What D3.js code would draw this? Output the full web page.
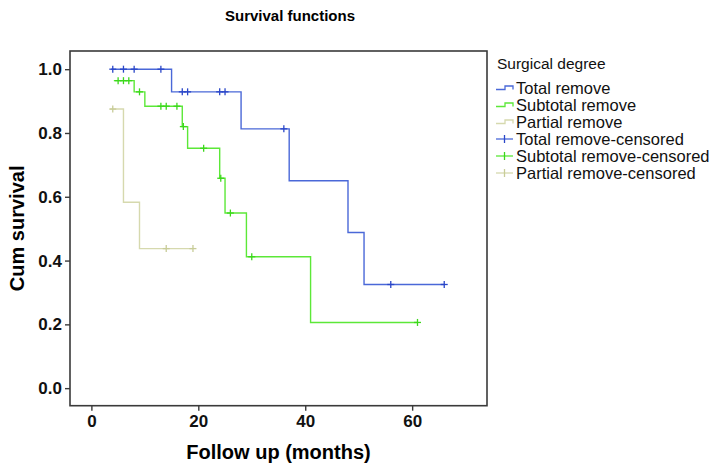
<!DOCTYPE html>
<html>
<head>
<meta charset="utf-8">
<script src="https://cdn.jsdelivr.net/npm/d3@7/dist/d3.min.js"></script>
<style>
  html, body { margin: 0; padding: 0; background: #fff; }
  svg { display: block; font-family: "Liberation Sans", Arial, sans-serif; }
</style>
</head>
<body>
<svg id="chart" width="720" height="469"></svg>
<script>
// ---- Data ----
const groups = ["Total remove", "Subtotal remove", "Partial remove"];
const censoredLabels = ["Total remove-censored", "Subtotal remove-censored", "Partial remove-censored"];

const totalTime = [3.7, 15, 28, 37, 48, 51, 66];
const totalSurv = [1.0, 0.929, 0.813, 0.650, 0.488, 0.325, 0.325];
const totalCensored = [4, 6, 8, 13, 17, 18, 24, 25, 36, 56, 66];

const subtotalTime = [4.2, 8, 10, 17, 18, 24, 25, 29, 41, 61];
const subtotalSurv = [0.964, 0.929, 0.884, 0.820, 0.752, 0.658, 0.549, 0.412, 0.206, 0.206];
const subtotalCensored = [5, 6, 7, 9, 13, 14, 16, 17.2, 21, 24.2, 26, 30, 61];

const partialTime = [3.5, 6, 9, 19];
const partialSurv = [0.875, 0.583, 0.4375, 0.4375];
const partialCensored = [4, 14, 19];

const xTicks = [0, 20, 40, 60];
const yTicks = [0.0, 0.2, 0.4, 0.6, 0.8, 1.0];

const lineColors = ["#4a68d8", "#5ce838", "#d6d9ae"];
const markColors = ["#2a46c8", "#3cd81c", "#c8cc98"];

// ---- Layout ----
const svg = d3.select("#chart");
const pLeft = 70, pRight = 487, pTop = 51, pBottom = 405.7;

const x = d3.scaleLinear().domain([-4, 74]).range([pLeft, pRight]);
const y = d3.scaleLinear().domain([-0.055, 1.057]).range([pBottom, pTop]);

// Title
svg.append("text")
  .attr("x", 290).attr("y", 21)
  .attr("text-anchor", "middle")
  .attr("font-weight", "bold")
  .attr("font-size", 15)
  .text("Survival functions");

// Frame
svg.append("rect")
  .attr("x", pLeft).attr("y", pTop)
  .attr("width", pRight - pLeft).attr("height", pBottom - pTop)
  .attr("fill", "none").attr("stroke", "#3a3a3a").attr("stroke-width", 1.6);

// Axes
const yAxis = svg.append("g")
  .attr("transform", `translate(${pLeft},0)`)
  .call(d3.axisLeft(y).tickValues(yTicks).tickFormat(d3.format(".1f")).tickSize(5).tickPadding(3));
const xAxis = svg.append("g")
  .attr("transform", `translate(0,${pBottom})`)
  .call(d3.axisBottom(x).tickValues(xTicks).tickFormat(d3.format("d")).tickSize(5).tickPadding(4));

[yAxis, xAxis].forEach(g => {
  g.select(".domain").remove();
  g.selectAll(".tick line").attr("stroke", "#3a3a3a").attr("stroke-width", 1.4);
  g.selectAll(".tick text")
    .attr("font-family", "'Liberation Sans', Arial, sans-serif")
    .attr("font-size", 17).attr("font-weight", "bold").attr("fill", "#111");
});

// Axis titles
svg.append("text")
  .attr("x", (pLeft + pRight) / 2).attr("y", 459)
  .attr("text-anchor", "middle")
  .attr("font-weight", "bold").attr("font-size", 20)
  .text("Follow up (months)");
svg.append("text")
  .attr("transform", `translate(24,${(pTop + pBottom) / 2}) rotate(-90)`)
  .attr("text-anchor", "middle")
  .attr("font-weight", "bold").attr("font-size", 20)
  .text("Cum survival");

// Curves
const series = [
  { t: totalTime, s: totalSurv, c: totalCensored },
  { t: subtotalTime, s: subtotalSurv, c: subtotalCensored },
  { t: partialTime, s: partialSurv, c: partialCensored }
];

const line = d3.line().x(d => x(d[0])).y(d => y(d[1])).curve(d3.curveStepAfter);

// draw partial first so others are on top
[2, 1, 0].forEach(i => {
  const sr = series[i];
  const pts = sr.t.map((t, k) => [t, sr.s[k]]);
  svg.append("path")
    .datum(pts)
    .attr("d", line)
    .attr("fill", "none")
    .attr("stroke", lineColors[i])
    .attr("stroke-width", 1.4);

  const survAt = t => {
    let v = sr.s[0];
    for (let k = 0; k < sr.t.length; k++) if (sr.t[k] <= t) v = sr.s[k];
    return v;
  };
  const g = svg.append("g").attr("stroke", markColors[i]).attr("stroke-width", 1.3);
  sr.c.forEach(ct => {
    const cx = x(ct), cy = y(survAt(ct));
    g.append("line").attr("x1", cx - 3.5).attr("x2", cx + 3.5).attr("y1", cy).attr("y2", cy);
    g.append("line").attr("x1", cx).attr("x2", cx).attr("y1", cy - 3.5).attr("y2", cy + 3.5);
  });
});

// Legend
const lg = svg.append("g").attr("transform", "translate(496,0)");
lg.append("text").attr("x", 1).attr("y", 69)
  .attr("font-size", 15.5).attr("fill", "#111").text("Surgical degree");

const itemY = [88, 105, 122, 139, 156, 173];
groups.forEach((name, i) => {
  const cy = itemY[i];
  lg.append("path")
    .attr("d", `M0,${cy + 1.5}H9V${cy - 2}H17V${cy + 1.5}`)
    .attr("fill", "none").attr("stroke", lineColors[i]).attr("stroke-width", 1.3);
  lg.append("text").attr("x", 20).attr("y", cy + 6)
    .attr("font-size", 16.5).attr("fill", "#111").text(name);
});
censoredLabels.forEach((name, i) => {
  const cy = itemY[i + 3];
  lg.append("line").attr("x1", 0).attr("x2", 17).attr("y1", cy).attr("y2", cy)
    .attr("stroke", lineColors[i]).attr("stroke-width", 1.3);
  lg.append("line").attr("x1", 8.5).attr("x2", 8.5).attr("y1", cy - 4).attr("y2", cy + 4)
    .attr("stroke", markColors[i]).attr("stroke-width", 1.3);
  lg.append("text").attr("x", 20).attr("y", cy + 6)
    .attr("font-size", 16.5).attr("fill", "#111").text(name);
});
</script>
</body>
</html>
